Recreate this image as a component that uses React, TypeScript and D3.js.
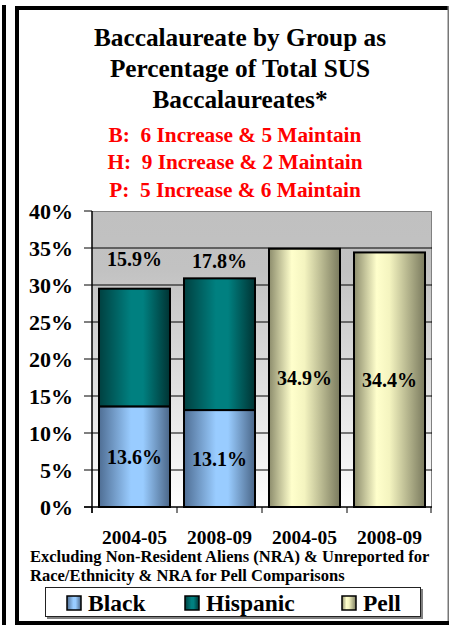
import React from "react";
import * as d3 from "d3";

const categories = ["2004-05", "2008-09", "2004-05", "2008-09"];
const blackValues: (number | null)[] = [13.6, 13.1, null, null];
const hispanicValues: (number | null)[] = [15.9, 17.8, null, null];
const pellValues: (number | null)[] = [null, null, 34.9, 34.4];
const yTicks = [0, 5, 10, 15, 20, 25, 30, 35, 40];
const titleLines = ["Baccalaureate by Group as", "Percentage of Total SUS", "Baccalaureates*"];
const subtitleLines = ["B:  6 Increase & 5 Maintain", "H:  9 Increase & 2 Maintain", "P:  5 Increase & 6 Maintain"];
const noteLines = [
  "Excluding Non-Resident Aliens (NRA) & Unreported for",
  "Race/Ethnicity & NRA for Pell Comparisons",
];
const legendItems = [
  { label: "Black", fill: "url(#gBlack)" },
  { label: "Hispanic", fill: "url(#gHisp)" },
  { label: "Pell", fill: "url(#gPell)" },
];

const FONT = "Liberation Serif, DejaVu Serif, serif";

export default function App() {
  const W = 451;
  const H = 625;
  const plotL = 92, plotR = 432, plotT = 211, plotB = 507;
  const x = d3
    .scaleBand<number>()
    .domain(categories.map((_, i) => i))
    .range([plotL, plotR])
    .paddingInner(14 / 85)
    .paddingOuter(7 / 85);
  const y = d3.scaleLinear().domain([0, 40]).range([plotB, plotT]);
  const bw = x.bandwidth();
  const step = x.step();

  return (
    <div style={{ position: "fixed", left: 0, top: 0 }}>
      <svg width={W} height={H} style={{ display: "block" }} fontFamily={FONT}>
        <defs>
          <linearGradient id="gPlot" x1="0" y1="0" x2="0" y2="1">
            <stop offset="0" stopColor="#c0c0c0" />
            <stop offset="0.2" stopColor="#c2c2c2" />
            <stop offset="1" stopColor="#ffffff" />
          </linearGradient>
          <linearGradient id="gBlack" x1="0" y1="0" x2="1" y2="0">
            <stop offset="0" stopColor="#4f6e94" />
            <stop offset="0.45" stopColor="#99ccff" />
            <stop offset="0.62" stopColor="#99ccff" />
            <stop offset="1" stopColor="#4a6688" />
          </linearGradient>
          <linearGradient id="gHisp" x1="0" y1="0" x2="1" y2="0">
            <stop offset="0" stopColor="#004040" />
            <stop offset="0.45" stopColor="#008080" />
            <stop offset="0.62" stopColor="#008080" />
            <stop offset="1" stopColor="#003333" />
          </linearGradient>
          <linearGradient id="gPell" x1="0" y1="0" x2="1" y2="0">
            <stop offset="0" stopColor="#8c8c6c" />
            <stop offset="0.32" stopColor="#ffffcc" />
            <stop offset="0.5" stopColor="#f4f4c0" />
            <stop offset="1" stopColor="#7a7a5e" />
          </linearGradient>
        </defs>

        <rect x={0} y={0} width={W} height={H} fill="#ffffff" />
        {/* outer frame pieces */}
        <rect x={2} y={5} width={4} height={H - 5} fill="#000" />
        <rect x={15} y={6} width={4} height={H - 6} fill="#000" />
        <rect x={15} y={6} width={433} height={4} fill="#000" />
        <rect x={15} y={621} width={434} height={4} fill="#000" />
        <rect x={447.5} y={6} width={1.5} height={615} fill="#777" />

        {/* title */}
        {titleLines.map((t, i) => (
          <text
            key={"t" + i}
            x={240}
            y={46 + i * 31}
            textAnchor="middle"
            fontSize={25.3}
            fontWeight="bold"
            fontFamily={FONT}
            fill="#000"
          >
            {t}
          </text>
        ))}
        {subtitleLines.map((t, i) => (
          <text
            key={"s" + i}
            x={235}
            y={141.5 + i * 27.5}
            textAnchor="middle"
            fontSize={21.3}
            fontWeight="bold"
            fontFamily={FONT}
            fill="#ff0000"
            style={{ whiteSpace: "pre" }}
          >
            {t}
          </text>
        ))}

        {/* plot area */}
        <rect x={plotL} y={plotT} width={plotR - plotL} height={plotB - plotT} fill="url(#gPlot)" />
        <line x1={plotL} x2={plotR} y1={plotT + 0.5} y2={plotT + 0.5} stroke="#808080" strokeWidth={1} />
        <line x1={plotR - 0.5} x2={plotR - 0.5} y1={plotT} y2={plotB} stroke="#808080" strokeWidth={1} />
        {yTicks
          .filter((t) => t > 0 && t < 40)
          .map((t) => (
            <line key={"g" + t} x1={plotL} x2={plotR} y1={y(t)} y2={y(t)} stroke="#000" strokeWidth={1} />
          ))}

        {/* bars */}
        {categories.map((_, i) => {
          const x0 = x(i)!;
          const els: React.ReactNode[] = [];
          const b = blackValues[i];
          const h = hispanicValues[i];
          const p = pellValues[i];
          if (b != null) {
            els.push(
              <rect key={"b" + i} x={x0} y={y(b)} width={bw} height={y(0) - y(b)} fill="url(#gBlack)" stroke="#000" strokeWidth={2} />
            );
          }
          if (h != null && b != null) {
            els.push(
              <rect key={"h" + i} x={x0} y={y(b + h)} width={bw} height={y(b) - y(b + h)} fill="url(#gHisp)" stroke="#000" strokeWidth={2} />
            );
          }
          if (p != null) {
            els.push(
              <rect key={"p" + i} x={x0} y={y(p)} width={bw} height={y(0) - y(p)} fill="url(#gPell)" stroke="#000" strokeWidth={2} />
            );
          }
          return <g key={"bar" + i}>{els}</g>;
        })}

        {/* value labels */}
        {categories.map((_, i) => {
          const cx = x(i)! + bw / 2;
          const b = blackValues[i];
          const h = hispanicValues[i];
          const p = pellValues[i];
          const out: React.ReactNode[] = [];
          const lbl = (key: string, v: number, cy: number) => (
            <text key={key} x={cx} y={cy + 7} textAnchor="middle" fontSize={20} fontWeight="bold" fontFamily={FONT} fill="#000">
              {v.toFixed(1) + "%"}
            </text>
          );
          if (b != null) out.push(lbl("lb" + i, b, y(b / 2)));
          if (h != null) out.push(lbl("lh" + i, h, y(33.5) + i * 2));
          if (p != null) out.push(lbl("lp" + i, p, y(p / 2)));
          return <g key={"lab" + i}>{out}</g>;
        })}

        {/* axes */}
        <line x1={plotL} x2={plotL} y1={plotT} y2={plotB + 6} stroke="#000" strokeWidth={1.5} />
        <line x1={plotL - 8} x2={plotR} y1={plotB} y2={plotB} stroke="#000" strokeWidth={1.5} />
        {yTicks.map((t) => (
          <g key={"yt" + t}>
            <line x1={plotL - 8} x2={plotL} y1={y(t)} y2={y(t)} stroke="#000" strokeWidth={1} />
            <text x={73} y={y(t) + 7.5} textAnchor="end" fontSize={22} fontWeight="bold" fontFamily={FONT} fill="#000">
              {t + "%"}
            </text>
          </g>
        ))}
        {d3.range(categories.length + 1).map((i) => (
          <line
            key={"xt" + i}
            x1={plotL + i * step - (i === categories.length ? 1 : 0)}
            x2={plotL + i * step - (i === categories.length ? 1 : 0)}
            y1={plotB}
            y2={plotB + 6}
            stroke="#000"
            strokeWidth={1}
          />
        ))}
        {categories.map((c, i) => (
          <text key={"xl" + i} x={x(i)! + bw / 2} y={543.5} textAnchor="middle" fontSize={19.5} fontWeight="bold" fontFamily={FONT} fill="#000">
            {c}
          </text>
        ))}

        {/* footnote */}
        {noteLines.map((t, i) => (
          <text key={"n" + i} x={30} y={561.5 + i * 19.5} fontSize={16.5} fontWeight="bold" fontFamily={FONT} fill="#000">
            {t}
          </text>
        ))}

        {/* legend */}
        <rect x={47} y={589} width={376} height={30} fill="#808080" />
        <rect x={45.5} y={587.5} width={375} height={29} fill="#fff" stroke="#222" strokeWidth={1} />
        {legendItems.map((it, i) => {
          const lx = [67, 185, 342][i];
          return (
            <g key={"lg" + i}>
              <rect x={lx} y={596} width={14} height={14} fill={it.fill} stroke="#000" strokeWidth={1.5} />
              <text x={lx + 21} y={611} fontSize={23.5} fontWeight="bold" fontFamily={FONT} fill="#000">
                {it.label}
              </text>
            </g>
          );
        })}
      </svg>
    </div>
  );
}
